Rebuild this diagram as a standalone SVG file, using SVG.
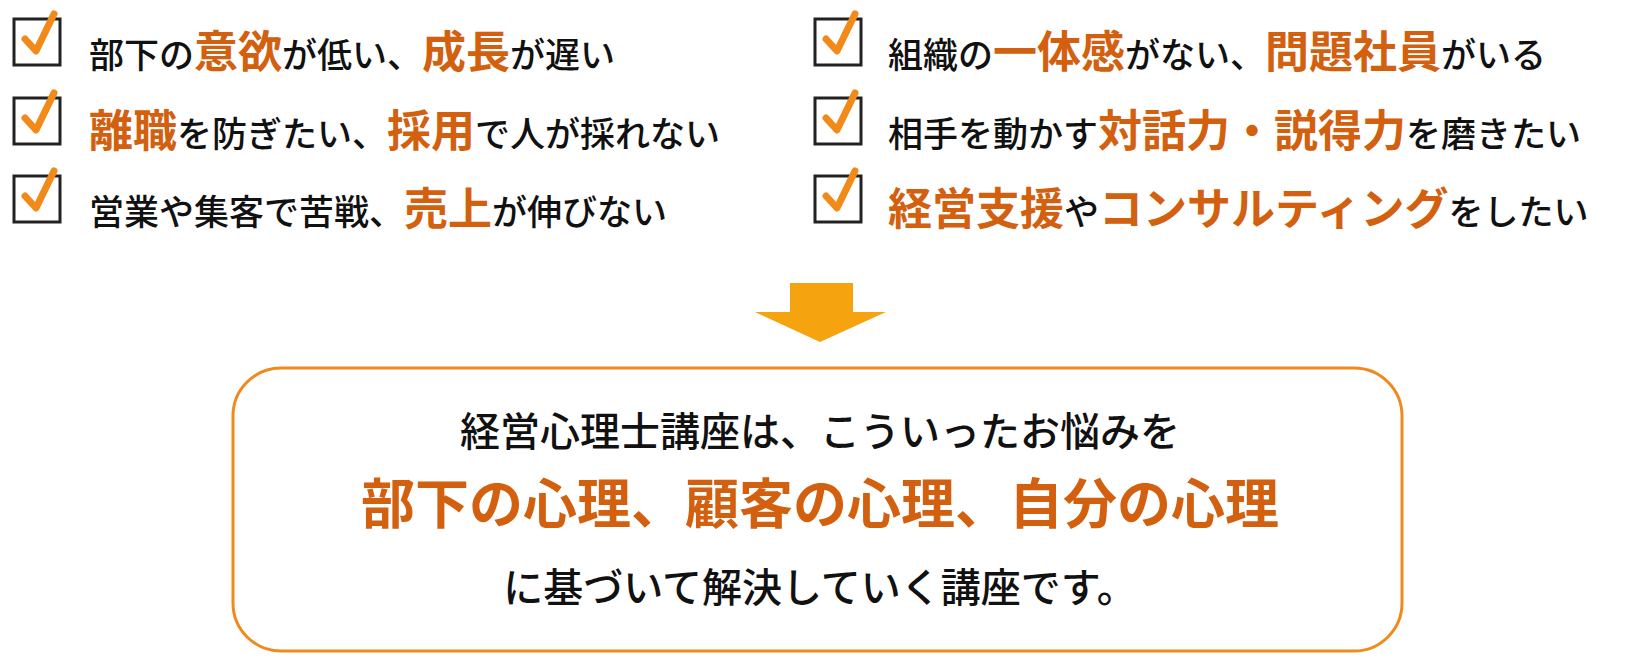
<svg xmlns="http://www.w3.org/2000/svg" width="1641" height="663" viewBox="0 0 1641 663">
<style>
text{font-family:"Noto Sans CJK JP","Noto Sans CJK SC",sans-serif;fill:#111;font-weight:500}
.t{font-size:35px}
.o{font-size:44px;font-weight:bold;fill:#d2600f}
.cb{fill:#fff;stroke:#222;stroke-width:3}
.ck{fill:none;stroke:#f28a1a;stroke-width:7;stroke-linecap:round;stroke-linejoin:round}
.b1{font-size:40px;text-anchor:middle}
.b2{font-size:54px;font-weight:bold;fill:#d2600f;text-anchor:middle}
</style>
<defs>
<g id="chk"><rect class="cb" x="0" y="5" width="46" height="46"/><path class="ck" d="M11 25 L22 37 L40 0"/></g>
</defs>
<g id="items">
<use href="#chk" x="14" y="14"/><use href="#chk" x="14" y="93"/><use href="#chk" x="14" y="171"/>
<use href="#chk" x="815" y="14"/><use href="#chk" x="815" y="93"/><use href="#chk" x="815" y="171"/>
<text x="89" y="68" class="t">部下の<tspan class="o">意欲</tspan>が低い、<tspan class="o">成長</tspan>が遅い</text>
<text x="89" y="147" class="t"><tspan class="o">離職</tspan>を防ぎたい、<tspan class="o">採用</tspan>で人が採れない</text>
<text x="89" y="225" class="t">営業や集客で苦戦、<tspan class="o">売上</tspan>が伸びない</text>
<text x="888" y="68" class="t">組織の<tspan class="o">一体感</tspan>がない、<tspan class="o">問題社員</tspan>がいる</text>
<text x="888" y="147" class="t">相手を動かす<tspan class="o">対話力・説得力</tspan>を磨きたい</text>
<text x="888" y="225" class="t"><tspan class="o">経営支援</tspan>や<tspan class="o">コンサルティング</tspan>をしたい</text>
</g>
<g id="connectors">
<path d="M790 283 H853 V312 H886 L820 342 L755 312 H790 Z" fill="#f5a30f"/>
</g>
<g id="box">
<rect x="233" y="368" width="1169" height="283" rx="48" fill="#fff" stroke="#f08a1c" stroke-width="3"/>
<text x="820" y="446" class="b1">経営心理士講座は、こういったお悩みを</text>
<text x="820" y="524" class="b2">部下の心理、顧客の心理、自分の心理</text>
<text x="820" y="602" class="b1">に基づいて解決していく講座です。</text>
</g>
</svg>
